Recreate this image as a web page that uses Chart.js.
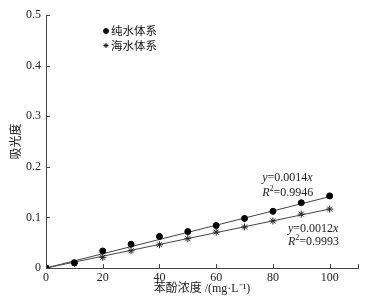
<!DOCTYPE html>
<html>
<head>
<meta charset="utf-8">
<script src="https://cdn.jsdelivr.net/npm/chart.js@4/dist/chart.umd.min.js"></script>
<style>
  html, body { margin: 0; padding: 0; background: #fff; }
  #wrap { width: 372px; height: 308px; }
</style>
</head>
<body>
<div id="wrap"><canvas id="chart"></canvas></div>
<script>
// --- data ---
const concentrations = [0, 10, 20, 30, 40, 50, 60, 70, 80, 90, 100];
const pureWater = [0, 0.0105, 0.0336, 0.047, 0.0624, 0.072, 0.084, 0.098, 0.112, 0.129, 0.1425];
const seaWater = [0, 0.009, 0.021, 0.034, 0.046, 0.058, 0.071, 0.081, 0.093, 0.1065, 0.1165];
const fitEnds = [0.141, 0.1165]; // trend line value at x = 100
const seriesNames = ['纯水体系', '海水体系'];
const equations = ['0.0014', '0.0012'];
const rSquared = ['0.9946', '0.9993'];
const xTickValues = [0, 20, 40, 60, 80, 100, 110];
const xTickLabels = ['0', '20', '40', '60', '80', '100', ''];
const yTickValues = [0, 0.1, 0.2, 0.3, 0.4, 0.5];
const yTickLabels = ['0', '0.1', '0.2', '0.3', '0.4', '0.5'];

const SERIF = '"Liberation Serif", "Times New Roman", serif';
const CJK = '"Noto Sans CJK SC", sans-serif';
const AXIS = '#444';

const toPoints = ys => concentrations.map((x, i) => ({ x: x, y: ys[i] }));

// inward tick marks
const innerTicks = {
    id: 'innerTicks',
    afterDraw(chart) {
        const ctx = chart.ctx;
        const { x, y } = chart.scales;
        ctx.save();
        ctx.strokeStyle = AXIS;
        ctx.lineWidth = 1;
        ctx.beginPath();
        x.ticks.forEach((t, i) => {
            const px = Math.round(x.getPixelForTick(i)) + 0.5;
            ctx.moveTo(px, x.top);
            ctx.lineTo(px, x.top - 4);
        });
        y.ticks.forEach((t, i) => {
            const py = Math.round(y.getPixelForTick(i)) + 0.5;
            ctx.moveTo(y.right, py);
            ctx.lineTo(y.right + 4, py);
        });
        ctx.stroke();
        ctx.restore();
    }
};

// legend in upper left of the plot + equation labels
const notes = {
    id: 'notes',
    afterDraw(chart) {
        const ctx = chart.ctx;
        const { x, y } = chart.scales;
        ctx.save();
        // legend
        [0, 1].forEach(i => {
            const ds = chart.data.datasets[i];
            const ly = 31 + i * 14.5;
            ctx.fillStyle = '#111';
            ctx.strokeStyle = '#111';
            Chart.helpers.drawPoint(ctx, {
                pointStyle: ds.pointStyle, radius: 2.5,
                rotation: 0, borderWidth: 1
            }, 106, ly);
            ctx.font = '11.5px ' + CJK;
            ctx.textBaseline = 'middle';
            ctx.textAlign = 'left';
            ctx.fillText(ds.label, 111, ly);
        });
        // equations
        const spots = [[76.2, 0.178, 0.149], [85.3, 0.0775, 0.0525]];
        spots.forEach((s, i) => {
            const px = x.getPixelForValue(s[0]);
            const py1 = y.getPixelForValue(s[1]);
            const py2 = y.getPixelForValue(s[2]);
            ctx.fillStyle = '#222';
            ctx.textBaseline = 'middle';
            ctx.textAlign = 'left';
            let cx = px;
            ctx.font = 'italic 12px ' + SERIF;
            ctx.fillText('y', cx, py1); cx += ctx.measureText('y').width;
            ctx.font = '12px ' + SERIF;
            const mid = '=' + equations[i];
            ctx.fillText(mid, cx, py1); cx += ctx.measureText(mid).width;
            ctx.font = 'italic 12px ' + SERIF;
            ctx.fillText('x', cx, py1);

            cx = px;
            ctx.fillText('R', cx, py2); cx += ctx.measureText('R').width;
            ctx.font = '8px ' + SERIF;
            ctx.fillText('2', cx, py2 - 4); cx += ctx.measureText('2').width;
            ctx.font = '12px ' + SERIF;
            ctx.fillText('=' + rSquared[i], cx, py2);
        });
        ctx.restore();
    }
};

new Chart(document.getElementById('chart'), {
    type: 'scatter',
    data: {
        datasets: [
            {
                label: seriesNames[0],
                data: toPoints(pureWater),
                pointStyle: 'circle',
                pointRadius: 3,
                backgroundColor: '#000',
                borderColor: '#000',
                borderWidth: 1
            },
            {
                label: seriesNames[1],
                data: toPoints(seaWater),
                pointStyle: 'star',
                pointRadius: 3.5,
                backgroundColor: '#222',
                borderColor: '#222',
                borderWidth: 1
            },
            {
                label: 'fit1',
                data: [{ x: 0, y: 0 }, { x: 100, y: fitEnds[0] }],
                showLine: true,
                pointRadius: 0,
                borderColor: '#444',
                borderWidth: 1
            },
            {
                label: 'fit2',
                data: [{ x: 0, y: 0 }, { x: 100, y: fitEnds[1] }],
                showLine: true,
                pointRadius: 0,
                borderColor: '#444',
                borderWidth: 1
            }
        ]
    },
    options: {
        responsive: true,
        maintainAspectRatio: false,
        animation: false,
        layout: { padding: { left: 0, right: 14, top: 15, bottom: 12 } },
        scales: {
            x: {
                type: 'linear',
                min: 0,
                max: 110,
                afterBuildTicks: s => { s.ticks = xTickValues.map(v => ({ value: v })); },
                afterFit: s => { s.height = 28; },
                grid: { display: false, drawTicks: false },
                border: { display: true, color: AXIS, width: 1 },
                ticks: {
                    color: '#222',
                    padding: 3,
                    maxRotation: 0,
                    autoSkip: false,
                    font: { family: SERIF, size: 12 },
                    callback: (v, i) => xTickLabels[i]
                },
                title: {
                    display: true,
                    text: '苯酚浓度 /(mg·L⁻¹)',
                    color: '#222',
                    padding: { top: 0, bottom: 0 },
                    font: { family: SERIF + ', ' + CJK, size: 12 }
                }
            },
            y: {
                min: 0,
                max: 0.5,
                afterBuildTicks: s => { s.ticks = yTickValues.map(v => ({ value: v })); },
                afterFit: s => { s.width = 46; },
                grid: { display: false, drawTicks: false },
                border: { display: true, color: AXIS, width: 1 },
                ticks: {
                    color: '#222',
                    padding: 5,
                    font: { family: SERIF, size: 12 },
                    callback: (v, i) => yTickLabels[i]
                },
                title: {
                    display: true,
                    text: '吸光度',
                    color: '#222',
                    padding: { top: 8, bottom: 0 },
                    font: { family: CJK, size: 12 }
                }
            }
        },
        plugins: {
            legend: { display: false },
            tooltip: { enabled: false }
        }
    },
    plugins: [innerTicks, notes]
});
</script>
</body>
</html>
